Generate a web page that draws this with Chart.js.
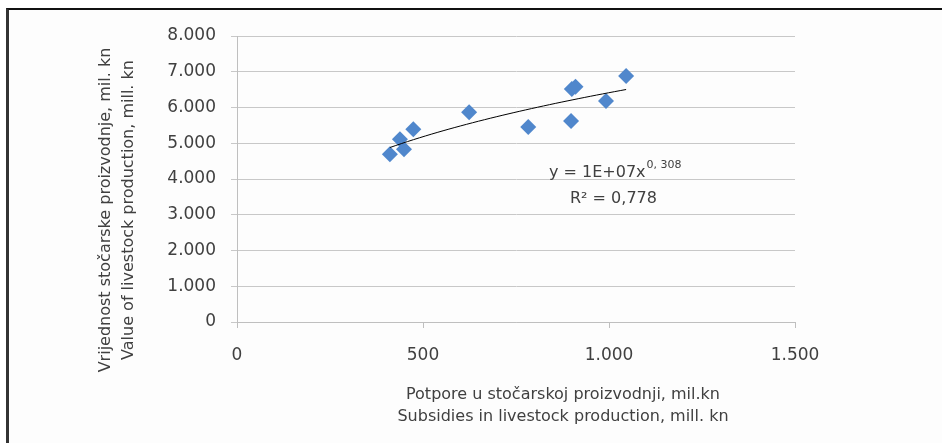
<!DOCTYPE html>
<html>
<head>
<meta charset="utf-8">
<script src="https://cdn.jsdelivr.net/npm/chart.js@4.4.1/dist/chart.umd.min.js"></script>
<style>
  html, body { margin: 0; padding: 0; background: #fff; }
  #wrap { position: relative; width: 942px; height: 443px; }
  #frame { position: absolute; left: 6px; top: 8px; right: -4px; bottom: -4px;
           border-top: 2px solid #111; border-left: 3px solid #333; background: #fdfdfd; }
  canvas { position: absolute; left: 0; top: 0; }
</style>
</head>
<body>
<div id="wrap">
  <div id="frame"></div>
  <canvas id="myChart" width="942" height="443"></canvas>
</div>
<script>
// subsidies (mil. kn) and value of livestock production (mil. kn)
const subsidies = [411, 438, 449, 474, 624, 783, 898, 900, 910, 992, 1046];
const production = [4690, 5110, 4830, 5390, 5870, 5455, 5620, 6520, 6580, 6180, 6880];
const xTicks = [0, 500, 1000, 1500];
const yTitle = ["Vrijednost stočarske proizvodnje, mil. kn", "Value of livestock production, mill. kn"];
const xTitle = ["Potpore u stočarskoj proizvodnji, mil.kn", "Subsidies in livestock production, mill. kn"];

const fmt = (v) => v.toLocaleString("de-DE");
const font = "DejaVu Sans";
const textColor = "#404040";

// power trendline fit (least squares on ln x, ln y), like Excel does it
const lx = subsidies.map(Math.log), ly = production.map(Math.log);
const n = lx.length;
const mx = lx.reduce((a, b) => a + b) / n, my = ly.reduce((a, b) => a + b) / n;
let sxy = 0, sxx = 0;
lx.forEach((v, i) => { sxy += (v - mx) * (ly[i] - my); sxx += (v - mx) * (v - mx); });
const b = sxy / sxx, a = Math.exp(my - b * mx);
const xmin = Math.min(...subsidies), xmax = Math.max(...subsidies);
const trend = Array.from({ length: 41 }, (_, i) => {
  const x = xmin + (xmax - xmin) * i / 40;
  return { x, y: a * Math.pow(x, b) };
});

const labelsPlugin = {
  id: "labels",
  afterDraw(chart) {
    const ctx = chart.ctx;
    ctx.save();
    ctx.fillStyle = textColor;
    ctx.textAlign = "center";
    ctx.textBaseline = "middle";
    ctx.font = "16px '" + font + "'";
    // x axis title
    ctx.fillText(xTitle[0], 563, 395);
    ctx.fillText(xTitle[1], 563, 417);
    // y axis title
    ctx.translate(0, 210);
    ctx.rotate(-Math.PI / 2);
    ctx.fillText(yTitle[0], 0, 106);
    ctx.fillText(yTitle[1], 0, 129);
    ctx.restore();

    // equation and R²
    ctx.save();
    ctx.fillStyle = textColor;
    ctx.textBaseline = "alphabetic";
    ctx.textAlign = "left";
    ctx.font = "16px '" + font + "'";
    const eq = "y = 1E+07x";
    ctx.fillText(eq, 549, 177);
    const w = ctx.measureText(eq).width;
    ctx.font = "11px '" + font + "'";
    ctx.fillText("0, 308", 549 + w + 1, 168);
    ctx.font = "16px '" + font + "'";
    ctx.fillText("R² = 0,778", 570, 203);
    ctx.restore();
  },
};

new Chart(document.getElementById("myChart"), {
  type: "scatter",
  data: {
    datasets: [
      {
        label: "Trend",
        data: trend,
        showLine: true,
        borderColor: "#000",
        borderWidth: 1,
        pointRadius: 0,
        order: 0,
      },
      {
        label: "Data",
        data: subsidies.map((x, i) => ({ x, y: production[i] })),
        pointStyle: "rectRot",
        pointRadius: 8,
        pointHoverRadius: 8,
        backgroundColor: "#5087cc",
        borderColor: "#5087cc",
        borderWidth: 0,
        showLine: false,
        order: 1,
      },
    ],
  },
  options: {
    responsive: false,
    animation: false,
    events: [],
    layout: { padding: { left: 0, top: 36, right: 147, bottom: 0 } },
    plugins: { legend: { display: false }, tooltip: { enabled: false } },
    scales: {
      x: {
        type: "linear",
        min: 0,
        max: 1500,
        afterBuildTicks: (s) => { s.ticks = xTicks.map((v) => ({ value: v })); },
        afterFit: (s) => { s.height = 121; },
        grid: { drawOnChartArea: false, drawTicks: true, tickLength: 6, color: "#bfbfbf" },
        border: { color: "#bfbfbf" },
        ticks: { callback: (v) => fmt(v), color: textColor, font: { family: font, size: 17 }, padding: 17, maxRotation: 0 },
      },
      y: {
        min: 0,
        max: 8000,
        ticks: { stepSize: 1000, callback: (v) => fmt(v), color: textColor, font: { family: font, size: 17 }, padding: 15 },
        afterFit: (s) => { s.width = 237; },
        grid: { color: "#c8c8c8", tickLength: 6 },
        border: { color: "#bfbfbf" },
      },
    },
  },
  plugins: [labelsPlugin],
});
</script>
</body>
</html>
